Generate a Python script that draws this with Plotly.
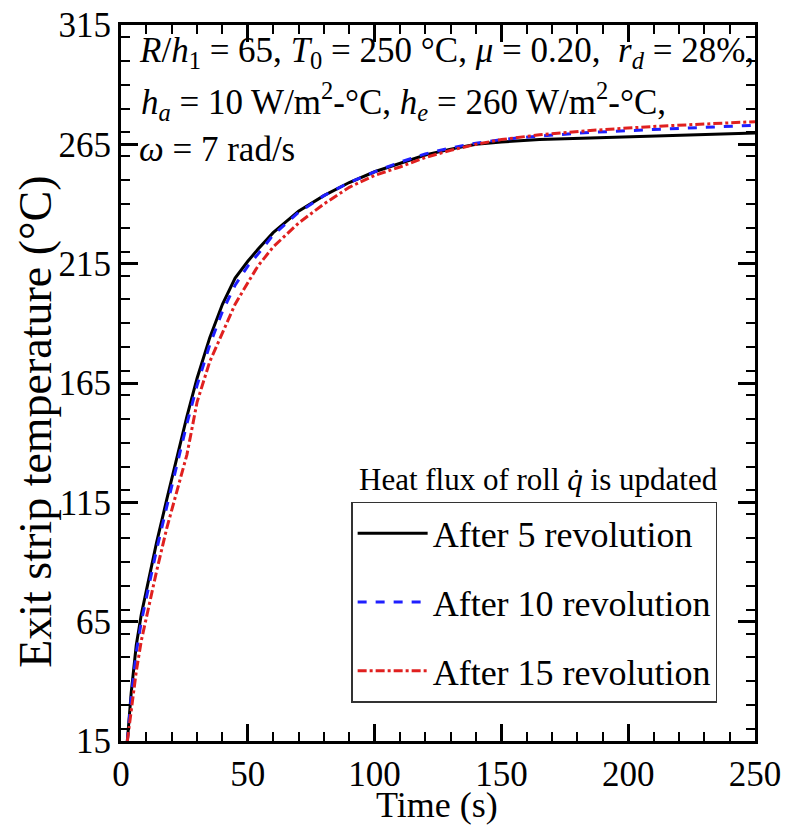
import plotly.graph_objects as go

# Time (s)
time_s = [2.5, 4, 6, 8, 10, 14, 18, 22, 26, 30, 35, 40, 45, 50, 54, 60, 70, 80,
          90, 100, 110, 120, 130, 140, 150, 165, 185, 210, 230, 250]

# Exit strip temperature (°C)
after_5 = [15, 35, 55, 68, 78, 98, 116, 134, 151, 167, 184, 198, 209, 216, 221, 228,
           237, 243.5, 249, 253.5, 257, 260.5, 263, 265, 266, 267, 267.7, 268.4, 269, 269.7]
after_10 = [15, 33, 52, 65, 75, 95, 113, 131, 148, 164, 181, 195, 206, 214, 219, 227,
            236.5, 243.5, 249, 253.5, 257.5, 261, 263.5, 265.5, 267, 268.5, 270, 271.2, 272.2, 273]
after_15 = [15, 28, 44, 57, 67, 86, 104, 119, 135, 157, 174, 186, 198, 207, 214, 222,
            232, 240, 247, 252, 255.5, 259.5, 262.5, 265, 267, 269, 270.8, 272.5, 273.6, 274.5]

series_names = ["After 5 revolution", "After 10 revolution", "After 15 revolution"]
series_vals = [after_5, after_10, after_15]
series_colors = ["#000000", "#1f1fff", "#e0201f"]
series_dash = ["solid", "dash", "dashdot"]

y_ticks = [15, 65, 115, 165, 215, 265, 315]
x_ticks = [0, 50, 100, 150, 200, 250]

SERIF = "Liberation Serif, Times New Roman, serif"

fig = go.Figure()
for i, (name, vals, col, dsh) in enumerate(zip(series_names, series_vals, series_colors, series_dash)):
    fig.add_trace(go.Scatter(
        x=time_s, y=vals, mode="lines", name=name, legendgroup=f"g{i}",
        line=dict(color=col, width=3, dash=dsh),
    ))

axis_common = dict(
    showline=True, linecolor="black", linewidth=3, mirror="ticks",
    ticks="inside", ticklen=17, tickwidth=2.5, tickcolor="black",
    showgrid=False, zeroline=False, automargin=False, ticklabeloverflow="allow",
    tickfont=dict(family=SERIF, size=35, color="black"),
    minor=dict(ticks="inside", ticklen=9, tickwidth=2, tickcolor="black", dtick=10, showgrid=False),
)

fig.update_xaxes(range=[0, 250], tickvals=x_ticks, **axis_common)
fig.update_yaxes(range=[15, 315], tickvals=y_ticks, **axis_common)

# axis titles
fig.add_annotation(xref="paper", yref="paper", x=0.498, y=-0.09, xanchor="center", yanchor="middle",
                   showarrow=False, font=dict(family=SERIF, size=36, color="black"),
                   text="Time (s)")
fig.add_annotation(xref="paper", yref="paper", x=-0.136, y=0.4455, xanchor="center", yanchor="middle",
                   showarrow=False, textangle=-90, font=dict(family=SERIF, size=46, color="black"),
                   text="Exit strip temperature (°C)")

ann_font = dict(family=SERIF, size=35, color="black")
fig.add_annotation(xref="paper", yref="paper", x=0.025, y=0.962, xanchor="left", yanchor="middle",
                   showarrow=False, font=ann_font,
                   text="<i>R</i>/<i>h</i><sub>1</sub> = 65, <i>T</i><sub>0</sub> = 250 °C, <i>μ</i> = 0.20,  <i>r<sub>d</sub></i> = 28%,")
fig.add_annotation(xref="paper", yref="paper", x=0.029, y=0.893, xanchor="left", yanchor="middle",
                   showarrow=False, font=ann_font,
                   text="<i>h<sub>a</sub></i> = 10 W/m<sup>2</sup>-°C, <i>h<sub>e</sub></i> = 260 W/m<sup>2</sup>-°C,")
fig.add_annotation(xref="paper", yref="paper", x=0.025, y=0.826, xanchor="left", yanchor="middle",
                   showarrow=False, font=ann_font,
                   text="<i>ω</i> = 7 rad/s")
fig.add_annotation(xref="paper", yref="paper", x=0.372, y=0.365, xanchor="left", yanchor="middle",
                   showarrow=False, font=dict(family=SERIF, size=31, color="black"),
                   text="Heat flux of roll <i>q̇</i> is updated")

# the page body adds an 8px offset; the figure is sized so it fits the window exactly
fig.update_layout(
    width=782, height=817,
    margin=dict(l=113, r=35, t=17, b=84),
    paper_bgcolor="white", plot_bgcolor="white",
    showlegend=True,
    legend=dict(x=0.363, y=0.334, xanchor="left", yanchor="top",
                bgcolor="white", bordercolor="#333333", borderwidth=1.5,
                font=dict(family=SERIF, size=36, color="black"),
                itemwidth=70, tracegroupgap=19),
)

fig.write_html("out.html")
